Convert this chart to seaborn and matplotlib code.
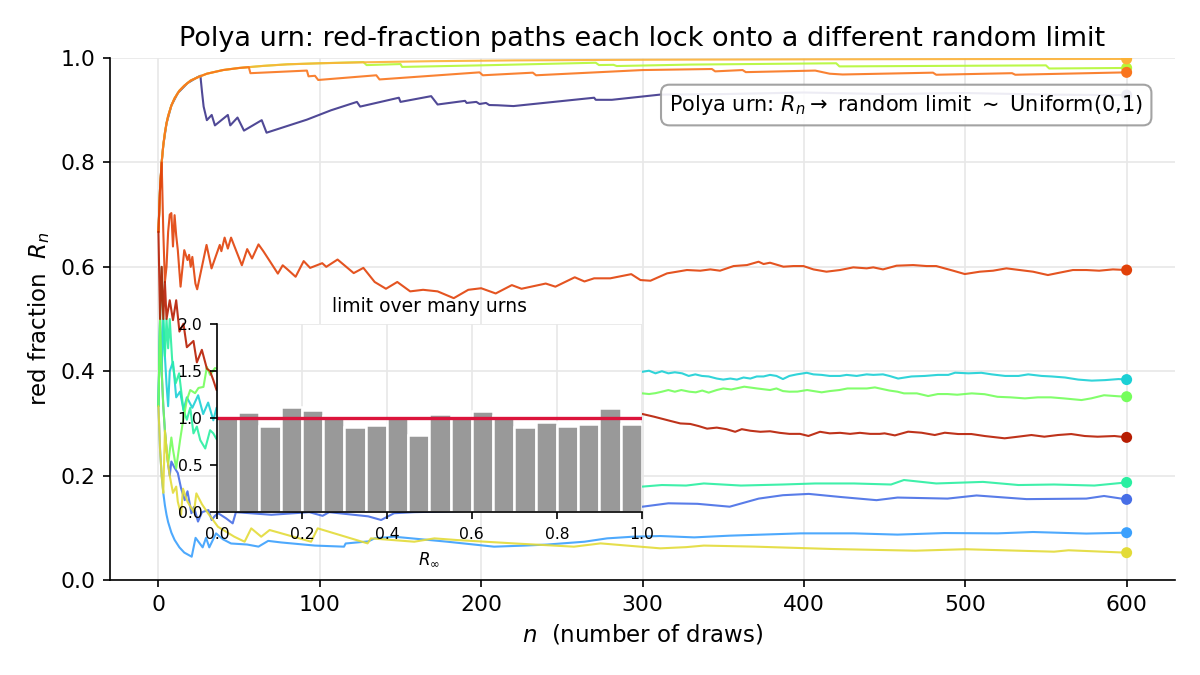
import matplotlib
matplotlib.use('Agg')
import matplotlib.pyplot as plt
import numpy as np
import pandas as pd
import seaborn as sns

sns.set_style('ticks', rc={'text.color': 'black', 'axes.labelcolor': 'black', 'xtick.color': 'black',
                           'ytick.color': 'black', 'axes.edgecolor': 'black'})
plt.rcParams['font.family'] = ['DejaVu Sans']

n_purple = [0, 1, 2, 3, 5, 8, 12, 18, 24, 26, 27, 28, 30, 33, 35, 43, 44.5, 49, 53, 64, 67, 92, 107, 123, 125,
            149, 150, 169, 173, 190, 191, 197, 199, 203, 205, 210, 220, 270, 271, 281, 311, 350, 400, 450, 500, 550, 600]
r_purple = [.667, .75, .8, .833, .875, .909, .933, .952, .963, .966, .935, .907, .881, .891, .871, .891, .871, .886, .861,
            .881, .857, .882, .900, .916, .907, .924, .916, .927, .911, .918, .914, .916, .912, .914, .910, .9096, .908,
            .924, .920, .920, .930, .931, .934, .931, .933, .930, .929]

n_blue = [0, 1, 2, 3, 4, 5, 6, 7, 8, 10, 12, 14, 16.3, 18, 20.4, 22, 24.5, 27, 31, 33, 35, 37, 42, 46, 48, 70, 93.5,
          101.7, 105.8, 130, 138, 146, 158.5, 200, 250, 300, 316, 334, 354, 372, 387, 403, 423, 445, 458, 489, 507,
          538, 575, 586, 600]
r_blue = [.333, .5, .4, .333, .286, .25, .222, .2, .227, .215, .205, .176, .153, .17, .128, .14, .112, .13, .134, .115,
          .123, .128, .118, .1086, .130, .125, .13, .123, .13, .122, .115, .128, .13, .133, .137, .1405, .147, .146,
          .1405, .156, .1625, .165, .159, .153, .158, .156, .162, .155, .156, .161, .1545]

n_sky = [0, 1, 2, 3, 4, 5, 6, 8, 10, 13, 16, 20.6, 23, 27.4, 29.5, 31.5, 35.7, 40, 45, 55, 62, 68, 76, 97, 115, 116,
         130, 134, 146, 179, 208, 227, 241, 264, 278, 294, 311, 332, 354, 398, 431, 458, 487, 520, 542, 575, 600]
r_sky = [.333, .25, .2, .167, .143, .125, .111, .0909, .0769, .0625, .0526, .0447, .0808, .0626, .0808, .0626, .0894,
         .078, .07, .068, .064, .075, .072, .066, .0639, .07, .074, .0798, .0830, .0734, .0639, .066, .068, .0734,
         .0798, .083, .0843, .0817, .085, .0894, .0894, .087, .090, .0894, .092, .089, .0907]

n_cyan = [0, 1, 2, 3, 4, 5, 6, 7, 9, 11, 13.4, 15.5, 17.6, 21, 24.6, 27.7, 30.8, 34, 36, 60, 100, 150, 200, 250,
          300, 304, 308, 312, 316, 320, 324.5, 328.6, 332.7, 336.8, 341, 346, 350, 354.4, 358.5, 362.6, 366.8, 370.8,
          375, 379, 383, 387, 391, 395.6, 401.8, 405.9, 411, 416, 422.4, 426.5, 432.7, 438.9, 443, 449, 453, 458.4,
          466.7, 475, 483, 489.5, 493.7, 502, 510, 516.4, 524.7, 533, 539, 547.3, 553.5, 561.8, 570, 578.4, 586.6,
          595, 600]
r_cyan = [.333, .5, .4, .5, .429, .375, .333, .4, .418, .35, .361, .326, .35, .33, .354, .318, .34, .306, .33, .35, .37,
          .38, .39, .395, .399, .401, .396, .400, .396, .398, .396, .391, .394, .391, .390, .386, .384, .386, .384,
          .388, .386, .390, .390, .393, .391, .385, .391, .394, .397, .394, .393, .391, .391, .393, .391, .394, .393,
          .394, .391, .386, .390, .391, .393, .393, .3972, .396, .397, .394, .391, .391, .394, .391, .390, .388, .384,
          .382, .383, .385, .384]

n_mint = [0, 1, 2, 3, 4, 5, 6, 7, 8.5, 10.7, 12.8, 15.5, 17.6, 19.7, 21.7, 23.8, 25.9, 29, 32, 34, 36, 60, 100, 150,
          200, 250, 300, 312, 327, 338, 361, 387, 407, 431, 454, 462, 482, 511, 533, 555, 580, 600]
r_mint = [.333, .5, .6, .5, .429, .5, .444, .5, .421, .377, .396, .326, .307, .33, .281, .294, .268, .252, .287, .281,
          .27, .24, .22, .2, .19, .185, .179, .182, .181, .185, .181, .183, .185, .185, .183, .1916, .185, .188, .182,
          .183, .181, .187]

n_lime = [0, 1, 2, 3, 4, 5, 6, 8, 9, 11, 13.4, 15, 17.6, 19.7, 22.7, 24.8, 27.9, 30, 32, 35, 60, 100, 150, 200, 250,
          300, 304, 308, 312, 316, 320, 324, 329, 333, 337, 341, 346, 350, 355, 363, 371, 379, 383, 387, 391, 396, 402,
          406, 411, 416, 422, 427, 433, 439, 444, 453, 458, 462, 470, 477, 483, 489, 495, 504, 512, 520, 528, 537,
          545, 553, 561, 572, 578, 586, 595, 600]
r_lime = [.333, .5, .4, .333, .286, .25, .222, .273, .25, .214, .268, .3, .345, .364, .358, .368, .37, .408, .393, .406,
          .39, .38, .37, .365, .362, .3576, .3563, .358, .3608, .364, .3608, .364, .3608, .3596, .363, .359, .364, .367,
          .365, .3704, .367, .364, .367, .362, .3608, .361, .364, .362, .3596, .362, .364, .367, .367, .367, .369, .363,
          .3608, .3576, .3576, .3525, .3563, .3563, .355, .3576, .356, .351, .350, .348, .350, .350, .348, .3448,
          .348, .354, .352, .3512]

n_chart = [0, 1, 2, 3, 4, 5, 6, 8, 10, 13, 16, 20, 25, 30, 40, 50, 65, 80, 100, 127, 129, 150, 151, 200, 271, 273, 282,
           284, 330, 420, 422, 550, 552, 600]
r_chart = [.667, .75, .8, .833, .857, .875, .889, .909, .923, .9375, .947, .957, .964, .970, .977, .981, .985, .988,
           .990, .9923, .9865, .9885, .983, .986, .991, .9866, .987, .9847, .9875, .990, .984, .986, .980, .981]

n_yellow = [0, 1, 2, 3, 4, 5, 6, 7, 9, 11, 12, 14, 15.2, 18, 22, 23.5, 27, 30.7, 36.9, 47, 53.4, 57.5, 63.7, 68.9,
            94.6, 98.7, 129.6, 131.7, 158.5, 171, 185, 220, 257.5, 274, 311, 327, 338, 369, 418, 469, 500, 555, 564, 600]
r_yellow = [.333, .25, .2, .167, .286, .25, .222, .2, .167, .179, .15, .125, .175, .15, .13, .166, .145, .128, .102,
            .083, .0734, .099, .083, .0958, .0734, .099, .0702, .0798, .0734, .0798, .0766, .0702, .0639, .0702, .0607,
            .063, .066, .064, .0594, .0562, .059, .0543, .057, .0524]

n_amber = [0, 1, 2, 3, 4, 5, 6, 8, 10, 13, 16, 20, 25, 30, 40, 50, 65, 80, 100, 130, 170, 220, 300, 400, 500, 600]
r_amber = [.667, .75, .8, .833, .857, .875, .889, .909, .923, .9375, .947, .957, .964, .970, .977, .981, .985, .988,
           .990, .992, .994, .9955, .9967, .9975, .998, .9983]

n_orange = [0, 1, 2, 3, 4, 5, 6, 8, 10, 13, 16, 20, 25, 30, 40, 50, 56, 57, 92, 93, 97, 99, 135, 137, 199, 201, 232,
            234, 300, 343, 345, 362, 364, 407, 416, 424, 480, 482, 529, 531, 600]
r_orange = [.667, .75, .8, .833, .857, .875, .889, .909, .923, .9375, .947, .957, .964, .970, .977, .981, .9826, .971,
            .976, .965, .966, .958, .967, .959, .9726, .967, .972, .967, .977, .979, .9745, .977, .973, .976, .970,
            .9685, .972, .968, .971, .968, .9726]

n_vermil = [0, 1, 2, 3, 4, 5, 6, 7, 8, 9, 10, 11, 12, 13.7, 16, 18, 19, 20, 21, 22.9, 24, 29.8, 32.9, 38, 39, 41, 43,
            45, 47, 51.7, 55, 58, 62, 65, 69, 74, 77, 80, 85, 90, 94, 101.5, 104, 111, 121, 127, 134, 141, 148, 156,
            164, 173, 183, 192, 200, 209, 219, 225, 240, 246, 258, 264, 270, 280, 293, 298.7, 304.9, 315.2, 321.4,
            327.5, 335.8, 342, 348, 356.4, 364.7, 371.9, 375, 379, 387.3, 393.5, 399.7, 405.9, 414, 422.4, 430.6,
            438.9, 443, 449, 457.4, 467.7, 476, 482, 492.5, 499.7, 509, 517.2, 525.5, 533.7, 542, 551.2, 558.4,
            566.7, 575, 583, 591.5, 600]
r_vermil = [.667, .75, .8, .667, .571, .6, .667, .7, .703, .639, .699, .66, .632, .562, .632, .613, .623, .600, .619,
            .568, .557, .642, .597, .642, .630, .656, .635, .656, .640, .603, .634, .616, .643, .630, .611, .587, .603,
            .595, .581, .611, .598, .607, .600, .614, .588, .598, .571, .558, .571, .553, .556, .553, .540, .556, .559,
            .549, .565, .558, .568, .562, .580, .572, .578, .578, .586, .5747, .5734, .5875, .5907, .5939, .5926,
            .5951, .5926, .6015, .6034, .6098, .6054, .6079, .6003, .6015, .6015, .5951, .5907, .5939, .599, .5971,
            .599, .5951, .6022, .6034, .6015, .6015, .5926, .5862, .5907, .5926, .5971, .5939, .5907, .5843, .5888,
            .5939, .5939, .5926, .5951, .5939]

n_maroon = [0, 1, 2, 3, 4, 5, 7, 9, 11, 13, 15.5, 17.6, 21.7, 23.8, 26.9, 30, 32, 34, 36, 60, 100, 150, 200, 250,
            300, 307, 312, 317, 323.4, 329.6, 334.7, 340, 346, 352, 357.4, 361.5, 366.8, 373, 379, 385, 391, 397.6,
            402.8, 410, 416, 422.4, 428.6, 434.7, 441, 447, 450, 456.4, 464.6, 472.9, 481.1, 487.3, 495.6, 503.8, 512,
            524.4, 532.7, 541, 549, 557.4, 565.7, 574, 582, 592.5, 600]
r_maroon = [.667, .5, .6, .5, .571, .5, .536, .498, .536, .476, .491, .446, .458, .417, .441, .405, .40, .383, .364,
            .36, .35, .34, .33, .325, .318, .313, .309, .305, .300, .299, .295, .290, .292, .289, .284, .289, .286,
            .284, .285, .282, .280, .280, .276, .284, .281, .282, .280, .282, .280, .280, .281, .2771, .2842, .2822,
            .2778, .2822, .2797, .2797, .2759, .2715, .2746, .2778, .2746, .2778, .2797, .2759, .2746, .2759, .2733]

# inset: density of the limit over many urns, 20 bins on [0, 1]
bin_centers = [0.025 + 0.05 * i for i in range(20)]
density = [1.00, 1.065, 0.92, 1.12, 1.09, 1.02, 0.905, 0.925, 1.00, 0.815,
           1.04, 1.00, 1.075, 1.02, 0.905, 0.96, 0.915, 0.94, 1.11, 0.94]

paths = [(n_purple, r_purple), (n_blue, r_blue), (n_sky, r_sky), (n_cyan, r_cyan), (n_mint, r_mint),
         (n_lime, r_lime), (n_chart, r_chart), (n_yellow, r_yellow), (n_amber, r_amber), (n_orange, r_orange),
         (n_vermil, r_vermil), (n_maroon, r_maroon)]

df = pd.concat([pd.DataFrame({'n': n, 'R': r, 'urn': i}) for i, (n, r) in enumerate(paths)], ignore_index=True)
ends = df.groupby('urn').tail(1)
colors = [plt.cm.turbo(v) for v in np.linspace(0.05, 0.92, len(paths))]

fig = plt.figure(figsize=(8, 4.5), dpi=150)
ax = fig.add_axes([0.0917, 0.1407, 0.8875, 0.7733])
ax.grid(True, color='#e8e8e8', linewidth=0.8)
sns.lineplot(data=df, x='n', y='R', hue='urn', palette=colors, estimator=None, sort=False,
             linewidth=1.0, alpha=0.9, legend=False, ax=ax)
sns.scatterplot(data=ends, x='n', y='R', hue='urn', palette=colors, s=28, linewidth=0,
                legend=False, ax=ax, zorder=3)
ax.set_ylim(0, 1)
ax.set_xlim(-30, 630)
ax.set_title('Polya urn: red-fraction paths each lock onto a different random limit', fontsize=13)
ax.set_xlabel('$n$  (number of draws)', fontsize=11)
ax.set_ylabel('red fraction  $R_n$', fontsize=11)
ax.tick_params(labelsize=10.5)
sns.despine(ax=ax)
ax.text(0.970, 0.910, r'Polya urn: $R_n \to$ random limit $\sim$ Uniform(0,1)', transform=ax.transAxes,
        ha='right', va='center', fontsize=10,
        bbox=dict(boxstyle='round,pad=0.4', facecolor='white', edgecolor='#999999', alpha=0.9))

ins = fig.add_axes([0.1808, 0.2415, 0.354, 0.2785])
ins.set_facecolor('white')
ins.grid(True, color='#e8e8e8', linewidth=0.8)
ins.set_axisbelow(True)
hist_df = pd.DataFrame({'x': bin_centers, 'w': density})
sns.histplot(data=hist_df, x='x', weights='w', bins=20, binrange=(0, 1), color='#999999', alpha=1.0,
             edgecolor='white', linewidth=1.2, ax=ins)
ins.axhline(1.0, color='crimson', linewidth=1.6)
ins.set_xlim(0, 1)
ins.set_ylim(0, 2)
ins.set_yticks([0, 0.5, 1.0, 1.5, 2.0])
ins.set_title('limit over many urns', fontsize=9)
ins.set_xlabel(r'$R_\infty$', fontsize=8)
ins.set_ylabel('')
ins.tick_params(labelsize=7.5)
sns.despine(ax=ins)

fig.savefig('out.png', dpi=150)
